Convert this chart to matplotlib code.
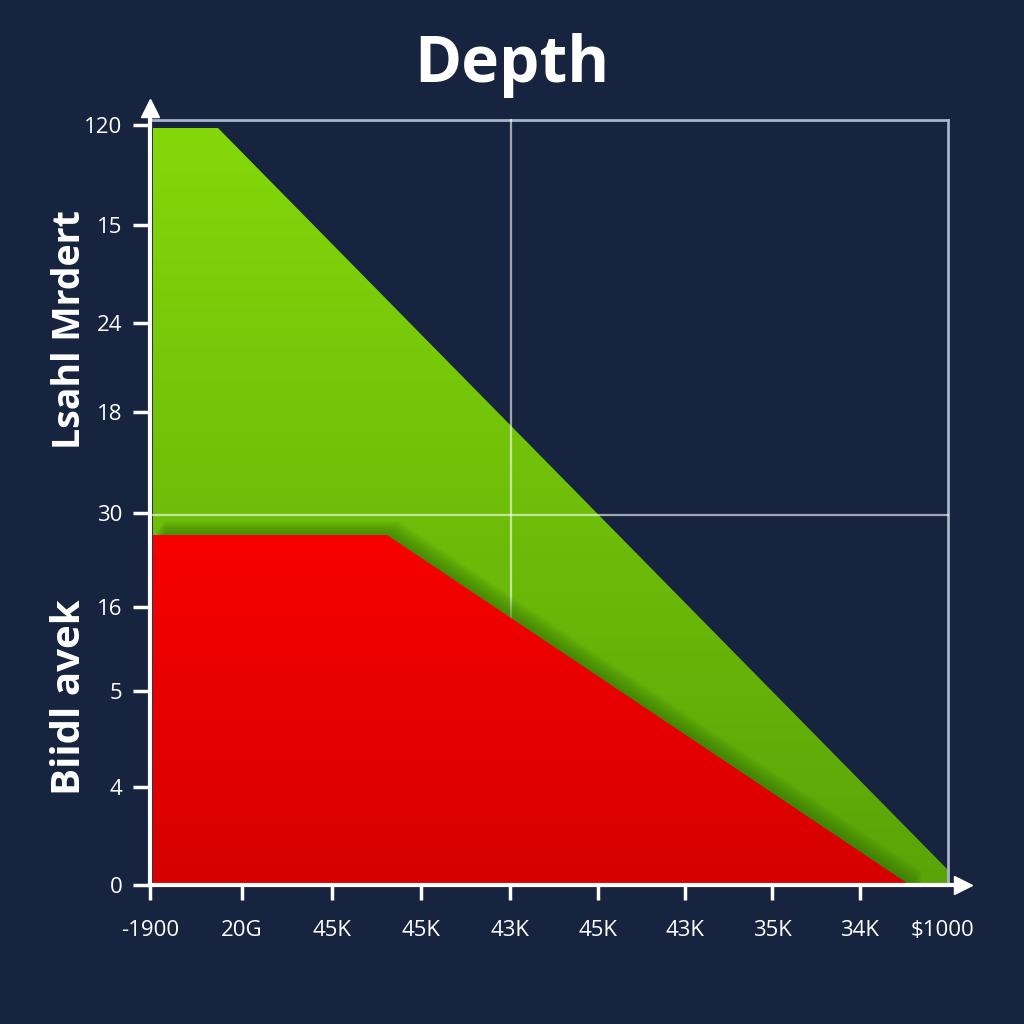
"""
Depth chart - green / red filled areas on dark navy background
"""
#-------------------------------------------------------------------------------
import matplotlib
matplotlib.use("Agg")
import matplotlib.pyplot as plt
import numpy as np

#-------------------------------------------------------------------------------
# data (x and y in chart units)
ask_x = [3, 68, 798]
ask_y = [757, 757, 15]
bid_x = [3, 237, 760]
bid_y = [350, 350, 0]

xtick_pos = [0, 92, 182, 271, 360, 448, 535, 622, 710, 793]
xtick_lab = ['-1900', '20G', '45K', '45K', '43K', '45K', '43K', '35K', '34K', '$1000']
ytick_pos = [0, 98, 194, 278, 372, 473, 562, 660, 760]
ytick_lab = ['0', '4', '5', '16', '30', '18', '24', '15', '120']

grid_x = 361
grid_y = 370
frame_top = 765
frame_right = 798

#-------------------------------------------------------------------------------
bg = '#172440'
plt.rcParams['font.family'] = ['Open Sans', 'DejaVu Sans']

fig = plt.figure(figsize=(10.24, 10.24), dpi=100, facecolor=bg)
ax = fig.add_axes([150/1024, (1024-885)/1024, (963-150)/1024, (885-108)/1024])
ax.set_facecolor(bg)
ax.set_xlim(0, 813)
ax.set_ylim(0, 777)

def gradient_fill(x, y, top, bottom, z):
    poly = ax.fill_between(x, y, 0, color='none', lw=0, zorder=z)
    grad = np.linspace(0, 1, 256).reshape(-1, 1)
    c0 = np.array(matplotlib.colors.to_rgb(top))
    c1 = np.array(matplotlib.colors.to_rgb(bottom))
    img = c0 + (c1 - c0) * grad[:, :, None]
    im = ax.imshow(img, extent=[min(x), max(x), 0, max(y)], aspect='auto',
                   origin='upper', zorder=z)
    path = poly.get_paths()[0]
    im.set_clip_path(path, transform=ax.transData)

# green (ask) area
gradient_fill(ask_x, ask_y, '#84d80a', '#5aa408', 1)

# frame and grid
ax.plot([0, frame_right], [frame_top, frame_top], color='#a7b3c8', lw=2, zorder=1.5)
ax.plot([frame_right, frame_right], [0, frame_top], color='#a7b3c8', lw=2, zorder=1.5)
ax.plot([grid_x, grid_x], [0, frame_top], color='white', alpha=0.6, lw=1.6, zorder=2)
ax.plot([3, frame_right], [grid_y, grid_y], color='white', alpha=0.6, lw=1.6, zorder=2)

# soft shadow above the red area
for off in np.linspace(2, 14, 10):
    ax.fill_between(np.array(bid_x) + off * 0.8, np.array(bid_y) + off, 0,
                    color='#2f6a05', alpha=0.07, lw=0, zorder=2.5)

# red (bid) area
gradient_fill(bid_x, bid_y, '#f80000', '#d60000', 3)

#-------------------------------------------------------------------------------
# axes
for s in ['top', 'right']:
    ax.spines[s].set_visible(False)
for s in ['left', 'bottom']:
    ax.spines[s].set_color('white')
    ax.spines[s].set_linewidth(3)
    ax.spines[s].set_zorder(5)
ax.plot(1, 0, '>', color='white', ms=13, transform=ax.get_yaxis_transform(), clip_on=False, zorder=6)
ax.plot(0, 1, '^', color='white', ms=13, transform=ax.get_xaxis_transform(), clip_on=False, zorder=6)

ax.set_xticks(xtick_pos)
ax.set_xticklabels(xtick_lab, fontsize=16, color='white')
ax.set_yticks(ytick_pos)
ax.set_yticklabels(ytick_lab, fontsize=16, color='white')
ax.tick_params(axis='x', length=11, width=2.5, color='white', pad=14)
ax.tick_params(axis='y', length=12, width=2.5, color='white', pad=8)
ax.xaxis.get_major_ticks()[-1].tick1line.set_visible(False)

#-------------------------------------------------------------------------------
# titles
fig.text(0.5, 1 - 66/1024, 'Depth', ha='center', va='center', fontsize=46,
         fontweight='bold', color='white')
fig.text(70/1024, 1 - 330/1024, 'Lsahl Mrdert', ha='center', va='center',
         rotation=90, fontsize=27, fontweight='bold', color='white')
fig.text(70/1024, 1 - 697/1024, 'Biidl avek', ha='center', va='center',
         rotation=90, fontsize=29, fontweight='bold', color='white')

plt.savefig('out.png', dpi=100, facecolor=bg)
